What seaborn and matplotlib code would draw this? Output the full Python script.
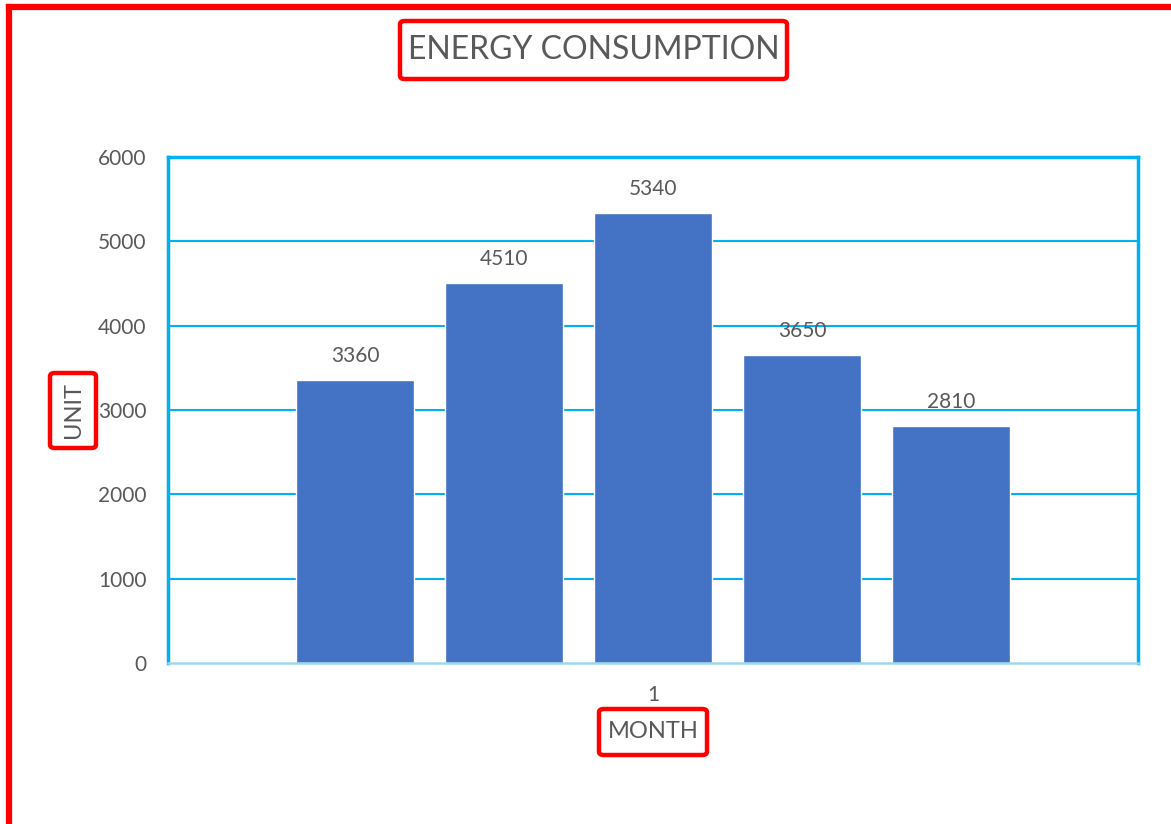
import matplotlib
matplotlib.use("Agg")
import matplotlib.pyplot as plt
from matplotlib.lines import Line2D
from matplotlib.patches import FancyBboxPatch
import seaborn as sns
import pandas as pd

# Chart data
months = ["1"]
series = ["S1", "S2", "S3", "S4", "S5"]
values = [3360, 4510, 5340, 3650, 2810]
y_ticks = [0, 1000, 2000, 3000, 4000, 5000, 6000]

title_text = "ENERGY CONSUMPTION"
x_label = "MONTH"
y_label = "UNIT"

df = pd.DataFrame({
    "month": months * len(series),
    "series": series,
    "value": values,
})

sns.set_theme(style="white")
plt.rcParams["font.family"] = ["Lato", "DejaVu Sans"]

TEXT = "#595959"
CYAN = "#00B0F0"
BAR = "#4472C4"
RED = "#FF0000"

W, H = 1171, 824
fig = plt.figure(figsize=(W / 100, H / 100), dpi=100)
ax = fig.add_axes([168 / W, 1 - 663 / H, 970 / W, 506 / H])

sns.barplot(
    data=df, x="month", y="value", hue="series",
    palette=[BAR] * len(series), width=0.768, gap=0.208,
    saturation=1, legend=False, ax=ax,
)

ax.set_xlim(-0.5, 0.5)
ax.set_ylim(0, 6000)
ax.set_yticks(y_ticks)
ax.set_yticklabels([str(t) for t in y_ticks], fontsize=15, color=TEXT)
ax.tick_params(axis="y", length=0, pad=15.5)
ax.tick_params(axis="x", length=0, pad=16, labelsize=15, labelcolor=TEXT)

# Grid lines
for t in y_ticks[1:-1]:
    ax.axhline(t, color=CYAN, lw=1.5, zorder=0)

for side in ["left", "top", "right"]:
    ax.spines[side].set_color(CYAN)
    ax.spines[side].set_linewidth(2.5)
ax.spines["bottom"].set_color("#9FD8EE")
ax.spines["bottom"].set_linewidth(1.8)

# Category boundary ticks
ax.set_xticks([-0.5, 0.5], minor=True)
ax.tick_params(axis="x", which="minor", length=5, width=1.2, color="#D0D0D0", direction="out")

# Value labels
for cont in ax.containers:
    ax.bar_label(cont, fmt="%d", padding=10, fontsize=15, color=TEXT)

ax.set_xlabel("")
ax.set_ylabel("")


def framed_text(x0, y0, x1, y1, text, size, rotation=0):
    """Text centred in a red rounded frame given in pixel coordinates (top-left origin)."""
    fig.add_artist(FancyBboxPatch(
        (x0 / W, 1 - y1 / H), (x1 - x0) / W, (y1 - y0) / H,
        boxstyle="round,pad=0,rounding_size=0.004", transform=fig.transFigure,
        fc="white", ec=RED, lw=3.2, zorder=5))
    fig.text((x0 + x1) / 2 / W, 1 - (y0 + y1) / 2 / H, text, ha="center", va="center",
             rotation=rotation, fontsize=size, color=TEXT, zorder=6)


framed_text(400, 21, 787, 79, title_text, 23)
framed_text(50, 373, 96, 448, y_label, 17, rotation=90)
framed_text(599, 709, 707, 755, x_label, 17)

# Outer red frame (left and top edges)
fig.add_artist(Line2D([9 / W, 9 / W], [0, 1 - 7 / H], color=RED, lw=4.5,
                      transform=fig.transFigure, solid_capstyle="projecting"))
fig.add_artist(Line2D([9 / W, 1], [1 - 7 / H, 1 - 7 / H], color=RED, lw=4.5,
                      transform=fig.transFigure, solid_capstyle="projecting"))

fig.savefig("out.png", dpi=100)
